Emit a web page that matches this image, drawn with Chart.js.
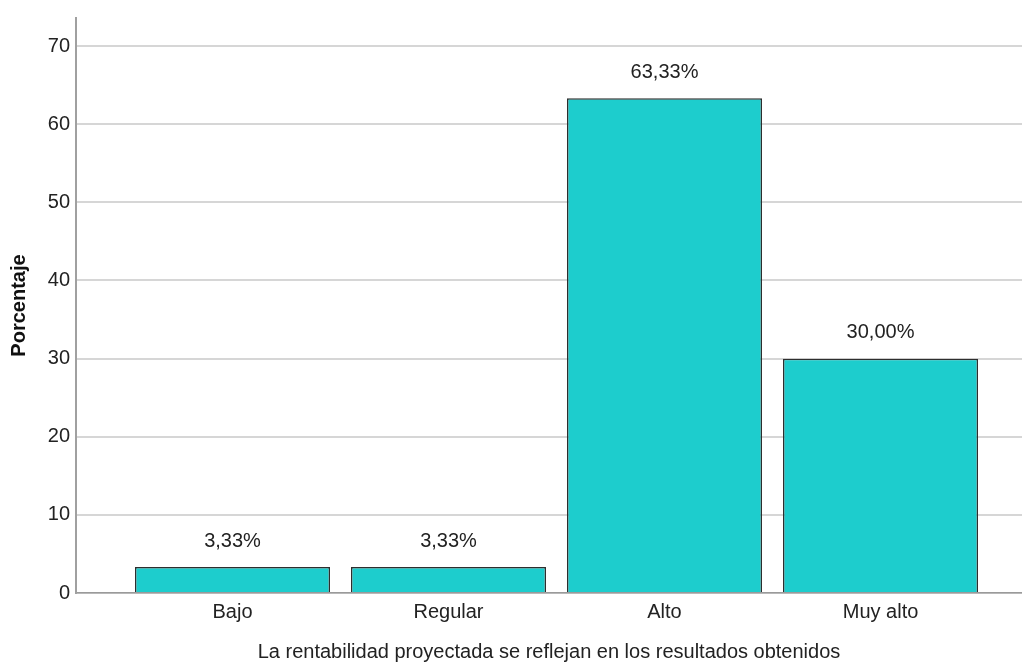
<!DOCTYPE html>
<html>
<head>
<meta charset="utf-8">
<script src="https://cdn.jsdelivr.net/npm/chart.js@4/dist/chart.umd.min.js"></script>
<style>
  html, body { margin: 0; padding: 0; background: #fff; }
  #wrap { width: 1022px; height: 664px; position: relative; }
</style>
</head>
<body>
<div id="wrap"><canvas id="barChart"></canvas></div>
<script>
// --- data ---
const categories = ["Bajo", "Regular", "Alto", "Muy alto"];
const percentages = [3.33, 3.33, 63.33, 30.0];
const yTicks = [0, 10, 20, 30, 40, 50, 60, 70];

const font = "'Liberation Sans', Arial, sans-serif";

// labels like "63,33%" above each bar
const valueLabels = {
  id: "valueLabels",
  afterDatasetsDraw(chart) {
    const ctx = chart.ctx;
    const meta = chart.getDatasetMeta(0);
    ctx.save();
    ctx.font = "20px " + font;
    ctx.fillStyle = "#222";
    ctx.textAlign = "center";
    ctx.textBaseline = "middle";
    meta.data.forEach((bar, i) => {
      const txt = percentages[i].toFixed(2).replace(".", ",") + "%";
      ctx.fillText(txt, bar.x, bar.y - 26);
    });
    ctx.restore();
  },
};

const ctx = document.getElementById("barChart").getContext("2d");
new Chart(ctx, {
  type: "bar",
  data: {
    datasets: [
      {
        data: percentages.map((v, i) => ({ x: i, y: v })),
        backgroundColor: "#1dcdcd",
        borderColor: "#2e2e2e",
        borderWidth: 1.5,
        barPercentage: 0.903,
        categoryPercentage: 1,
      },
    ],
  },
  options: {
    responsive: true,
    maintainAspectRatio: false,
    animation: false,
    layout: { padding: { top: 15, right: 0, left: 0, bottom: 0 } },
    plugins: { legend: { display: false }, tooltip: { enabled: false } },
    scales: {
      x: {
        type: "linear",
        offset: false,
        min: -0.7245,
        max: 3.655,
        grid: { display: false, drawTicks: false },
        border: { display: true, color: "#9a9a9a", width: 1.5 },
        afterBuildTicks: (scale) => {
          scale.ticks = categories.map((c, i) => ({ value: i }));
        },
        afterFit: (scale) => { scale.height = 71; },
        ticks: {
          autoSkip: false,
          maxRotation: 0,
          padding: 7,
          color: "#222",
          font: { family: font, size: 20 },
          callback: (v) => categories[v] ?? "",
        },
        title: {
          display: true,
          text: "La rentabilidad proyectada se reflejan en los resultados obtenidos",
          color: "#222",
          font: { family: font, size: 20 },
          padding: { top: 0, bottom: 0 },
        },
      },
      y: {
        min: 0,
        max: 73.6,
        afterBuildTicks: (scale) => {
          scale.ticks = yTicks.map((v) => ({ value: v }));
        },
        afterFit: (scale) => { scale.width = 76; },
        grid: { color: "#d6d6d6", lineWidth: 2, drawTicks: false },
        border: { display: true, color: "#a0a0a0", width: 2 },
        ticks: {
          padding: 6,
          color: "#222",
          font: { family: font, size: 20 },
        },
        title: {
          display: true,
          text: "Porcentaje",
          color: "#111",
          font: { family: font, size: 20, weight: "bold" },
          padding: { top: 7, bottom: 0 },
        },
      },
    },
  },
  plugins: [valueLabels],
});
</script>
</body>
</html>
